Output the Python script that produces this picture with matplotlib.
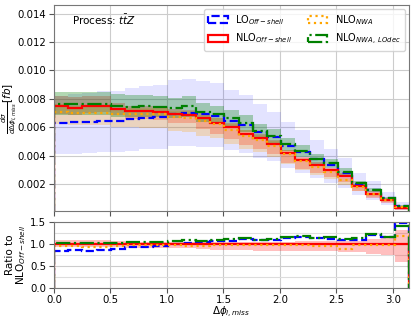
import numpy as np
import matplotlib
matplotlib.use('Agg')
import matplotlib.pyplot as plt
from matplotlib.ticker import MultipleLocator

# 25 bins in delta phi between 0 and pi
edges = np.linspace(0, np.pi, 26)

lo_off = [0.00632, 0.00634, 0.00638, 0.00643, 0.00645, 0.00657, 0.00667, 0.00669,
          0.00695, 0.00700, 0.00690, 0.00680, 0.00645, 0.00615, 0.00567, 0.00528,
          0.00470, 0.00424, 0.00375, 0.00330, 0.00280, 0.00200, 0.00157, 0.00100,
          0.00047]
nlo_off = [0.00746, 0.00737, 0.00750, 0.00750, 0.00728, 0.00711, 0.00711, 0.00705,
           0.00690, 0.00688, 0.00666, 0.00632, 0.00598, 0.00551, 0.00523, 0.00482,
           0.00417, 0.00366, 0.00332, 0.00297, 0.00256, 0.00182, 0.00131, 0.00087,
           0.00032]
nlo_nwa = [0.00710, 0.00700, 0.00700, 0.00700, 0.00690, 0.00690, 0.00690, 0.00690,
           0.00670, 0.00665, 0.00640, 0.00620, 0.00580, 0.00540, 0.00510, 0.00470,
           0.00410, 0.00360, 0.00320, 0.00285, 0.00228, 0.00178, 0.00128, 0.00086,
           0.00038]
nlo_nwa_lodec = [0.00760, 0.00760, 0.00765, 0.00765, 0.00750, 0.00745, 0.00750, 0.00745,
                 0.00735, 0.00747, 0.00705, 0.00690, 0.00662, 0.00632, 0.00574, 0.00539,
                 0.00482, 0.00435, 0.00378, 0.00345, 0.00285, 0.00205, 0.00160, 0.00100,
                 0.00045]

# relative scale uncertainties (up / down)
lo_up = [0.30, 0.31, 0.32, 0.33, 0.33, 0.33, 0.33, 0.34, 0.34, 0.34, 0.34, 0.34, 0.34,
         0.34, 0.34, 0.34, 0.35, 0.36, 0.36, 0.36, 0.36, 0.38, 0.40, 0.45, 0.50]
lo_down = [0.35, 0.35, 0.34, 0.34, 0.34, 0.34, 0.33, 0.33, 0.33, 0.33, 0.33, 0.32, 0.32,
           0.32, 0.32, 0.32, 0.33, 0.35, 0.36, 0.38, 0.40, 0.40, 0.45, 0.50, 0.70]
nlo_off_up = [0.10, 0.10, 0.09, 0.09, 0.06, 0.05, 0.05, 0.05, 0.05, 0.05, 0.05, 0.05, 0.05,
              0.05, 0.05, 0.05, 0.05, 0.06, 0.06, 0.06, 0.07, 0.08, 0.12, 0.14, 0.33]
nlo_off_down = [0.07, 0.07, 0.07, 0.06, 0.06, 0.08, 0.08, 0.08, 0.09, 0.09, 0.12, 0.13, 0.14,
                0.14, 0.15, 0.15, 0.16, 0.16, 0.16, 0.16, 0.17, 0.18, 0.22, 0.25, 0.41]
nwa_up = [0.07, 0.07, 0.07, 0.07, 0.07, 0.07, 0.07, 0.07, 0.07, 0.07, 0.07, 0.07, 0.07,
          0.07, 0.07, 0.07, 0.07, 0.07, 0.07, 0.07, 0.07, 0.08, 0.08, 0.09, 0.10]
nwa_down = [0.12, 0.12, 0.12, 0.12, 0.13, 0.13, 0.14, 0.14, 0.15, 0.15, 0.16, 0.16, 0.17,
            0.17, 0.17, 0.17, 0.17, 0.17, 0.17, 0.17, 0.17, 0.17, 0.18, 0.18, 0.20]
lodec_up = [0.12, 0.12, 0.11, 0.11, 0.11, 0.11, 0.10, 0.10, 0.10, 0.10, 0.09, 0.09, 0.09,
            0.09, 0.09, 0.09, 0.09, 0.09, 0.09, 0.09, 0.09, 0.09, 0.09, 0.09, 0.10]
lodec_down = [0.10, 0.10, 0.10, 0.10, 0.10, 0.10, 0.10, 0.10, 0.10, 0.10, 0.10, 0.10, 0.10,
              0.10, 0.10, 0.10, 0.10, 0.10, 0.10, 0.10, 0.10, 0.10, 0.10, 0.10, 0.10]

labels = [r'LO$_{Off-shell}$', r'NLO$_{Off-shell}$', r'NLO$_{NWA}$', r'NLO$_{NWA,\ LOdec}$']
colors = ['blue', 'red', 'orange', 'green']
styles = ['--', '-', ':', '-.']
band_alpha = [0.11, 0.25, 0.25, 0.3]

series = [lo_off, nlo_off, nlo_nwa, nlo_nwa_lodec]
ups = [lo_up, nlo_off_up, nwa_up, lodec_up]
downs = [lo_down, nlo_off_down, nwa_down, lodec_down]

fs = 7.3
plt.rcParams['font.size'] = fs

fig = plt.figure(figsize=(4.15, 3.2), dpi=100)
ax = fig.add_axes([0.130, 0.341, 0.8555, 0.643])
rax = fig.add_axes([0.130, 0.100, 0.8555, 0.206])

left = edges[:-1]
width = np.diff(edges)

for vals, up, dn, c, a in zip(series, ups, downs, colors, band_alpha):
    v = np.array(vals)
    lo = v * (1 - np.array(dn))
    hi = v * (1 + np.array(up))
    ax.bar(left, hi - lo, bottom=lo, width=width, align='edge', color=c, alpha=a,
           linewidth=0)

for vals, c, ls, lab in zip(series, colors, styles, labels):
    ax.hist(left, bins=edges, weights=vals, histtype='step', color=c, linestyle=ls,
            linewidth=1.6, label=lab)

# ratio panel
ref = np.array(nlo_off)
rlo = 1 - np.array(nlo_off_down)
rhi = 1 + np.array(nlo_off_up)
rax.bar(left, rhi - rlo, bottom=rlo, width=width, align='edge', color='red', alpha=0.25,
        linewidth=0)
for vals, c, ls in zip(series, colors, styles):
    rax.hist(left, bins=edges, weights=np.array(vals) / ref, histtype='step', color=c,
             linestyle=ls, linewidth=1.6)

for a in (ax, rax):
    a.set_xlim(0, np.pi)
    a.xaxis.set_major_locator(MultipleLocator(0.5))
    a.grid(True, color='#cccccc', linewidth=0.8)
    a.set_axisbelow(True)
    for s in a.spines.values():
        s.set_color('#777777')
    a.tick_params(labelsize=fs, color='#555555', pad=2)

ax.set_ylim(0.0001, 0.0146)
ax.set_yticks([0.002, 0.004, 0.006, 0.008, 0.010, 0.012, 0.014])
ax.tick_params(labelbottom=False)
ax.set_ylabel(r'$\frac{d\sigma}{d\Delta\phi_{l,miss}}[fb]$', fontsize=7.5)
ax.yaxis.set_label_coords(-0.098, 0.5)
ax.text(0.05, 0.927, r'Process: $t\bar{t}Z$', transform=ax.transAxes, fontsize=7.5,
        va='center', ha='left')
ax.legend(loc='upper right', ncol=2, fontsize=7, handlelength=2.0,
          columnspacing=1.6, borderaxespad=0.4)

rax.set_ylim(0, 1.5)
rax.set_yticks([0.0, 0.5, 1.0, 1.5])
rax.yaxis.set_minor_locator(MultipleLocator(0.25))
rax.tick_params(which='minor', length=0)
rax.tick_params(axis='x', pad=1.5)
rax.grid(True, which='minor', axis='y', color='#dddddd', linewidth=0.8)
rax.set_ylabel('Ratio to\n' + r'NLO$_{Off-shell}$', fontsize=7.5, linespacing=1.0)
rax.yaxis.set_label_coords(-0.072, 0.5)
rax.set_xlabel(r'$\Delta\phi_{l,miss}$', fontsize=7.5)
rax.xaxis.set_label_coords(0.5, -0.25)

fig.savefig('out.png', dpi=100)
